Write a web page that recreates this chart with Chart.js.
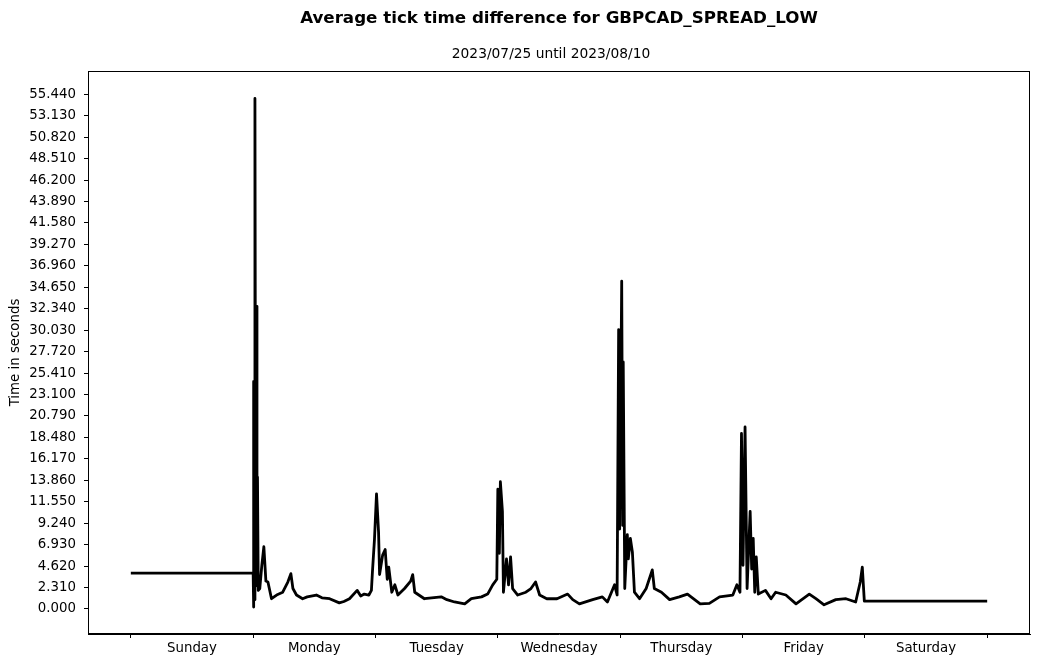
<!DOCTYPE html>
<html>
<head>
<meta charset="utf-8">
<script src="https://cdn.jsdelivr.net/npm/chart.js@4.4.0/dist/chart.umd.min.js"></script>
<style>
  body { margin: 0; background: #fff; }
  canvas { display: block; }
</style>
</head>
<body>
<canvas id="tickChart" width="1039" height="664"></canvas>
<script>
// hours since Sunday 00:00
const hours = [
  0, 24.0, 24.05, 24.15, 24.25, 24.35, 24.5, 24.6, 24.75, 24.85, 25.0, 25.3, 25.7, 26.1, 26.5, 26.9,
  27.6, 28.6, 29.8, 30.8, 31.4, 31.8, 32.5, 33.7, 34.6, 36.4, 37.5, 39.0, 40.9, 41.8, 42.9, 44.4,
  45.1, 45.8, 46.7, 47.2, 47.4, 47.8, 48.2, 48.6, 48.8, 49.4, 49.9, 50.3, 50.6, 51.2, 51.8, 52.4,
  53.7, 54.9, 55.3, 55.7, 57.6, 60.9, 62.0, 63.5, 65.5, 66.8, 68.8, 70.0, 71.0, 71.8, 72.0, 72.3,
  72.5, 72.9, 73.1, 73.7, 74.1, 74.5, 74.9, 75.9, 77.5, 78.5, 79.4, 80.2, 81.6, 83.6, 85.7, 86.7,
  88.0, 90.6, 92.5, 93.5, 94.9, 95.4, 95.7, 95.9, 96.3, 96.5, 96.6, 96.9, 97.4, 97.6, 98.0, 98.4,
  98.8, 99.8, 101.1, 102.3, 102.7, 104.1, 105.7, 107.6, 109.2, 111.7, 113.5, 115.5, 118.1, 118.9, 119.5, 119.8,
  120.1, 120.5, 120.9, 121.5, 121.8, 122.1, 122.4, 122.7, 123.1, 124.5, 125.6, 126.5, 128.5, 130.5, 133.1, 134.4,
  136.0, 138.3, 140.3, 142.2, 143.1, 143.5, 143.9, 168
];
const seconds = [
  3.85, 3.85, 0.2, 24.5, 1.0, 55.0, 3.0, 32.6, 2.5, 14.2, 2.0, 2.2, 4.7, 6.7, 3.0, 2.9,
  1.1, 1.5, 1.8, 2.9, 3.8, 2.2, 1.5, 1.1, 1.3, 1.5, 1.2, 1.1, 0.65, 0.8, 1.1, 2.0,
  1.4, 1.6, 1.5, 2.0, 4.0, 7.5, 12.4, 8.3, 3.7, 5.8, 6.4, 3.2, 4.5, 1.8, 2.6, 1.5,
  2.2, 3.0, 3.7, 1.8, 1.1, 1.3, 1.0, 0.75, 0.55, 1.1, 1.3, 1.6, 2.6, 3.2, 12.9, 6.0,
  13.7, 10.5, 1.8, 5.4, 2.6, 5.6, 2.2, 1.5, 1.8, 2.2, 2.9, 1.5, 1.1, 1.1, 1.6, 1.0,
  0.55, 1.0, 1.3, 0.75, 2.6, 1.5, 30.1, 8.6, 35.3, 9.0, 26.6, 2.2, 8.0, 5.4, 7.6, 6.1,
  1.8, 1.1, 2.2, 4.2, 2.2, 1.8, 1.0, 1.3, 1.6, 0.55, 0.6, 1.3, 1.5, 2.6, 1.8, 18.9,
  4.7, 19.6, 2.2, 10.5, 4.3, 7.6, 1.8, 5.6, 1.6, 2.0, 1.1, 1.8, 1.5, 0.55, 1.6, 1.1,
  0.45, 1.0, 1.1, 0.75, 2.9, 4.5, 0.85, 0.85
];
const yTicks = [0, 2.31, 4.62, 6.93, 9.24, 11.55, 13.86, 16.17, 18.48, 20.79, 23.1, 25.41, 27.72,
  30.03, 32.34, 34.65, 36.96, 39.27, 41.58, 43.89, 46.2, 48.51, 50.82, 53.13, 55.44];
const days = ['Sunday', 'Monday', 'Tuesday', 'Wednesday', 'Thursday', 'Friday', 'Saturday'];
const xTicks = [0, 12, 24, 36, 48, 60, 72, 84, 96, 108, 120, 132, 144, 156, 168];

const FONT = 'DejaVu Sans';

const frame = {
  id: 'frame',
  afterDraw(chart) {
    const { ctx, chartArea: a } = chart;
    ctx.save();
    ctx.strokeStyle = '#000';
    ctx.lineWidth = 1;
    ctx.strokeRect(a.left + 0.5, a.top + 0.5, a.right - a.left - 1, a.bottom - a.top - 1);
    ctx.fillStyle = '#000';
    ctx.textAlign = 'center';
    ctx.textBaseline = 'middle';
    const cx = (a.left + a.right) / 2;
    ctx.font = 'bold 16.7px "' + FONT + '"';
    ctx.fillText('Average tick time difference for GBPCAD_SPREAD_LOW', cx, 19);
    ctx.font = '13.8px "' + FONT + '"';
    ctx.fillText('2023/07/25 until 2023/08/10', cx - 8, 54);
    ctx.restore();
  }
};

const ctx = document.getElementById('tickChart').getContext('2d');
new Chart(ctx, {
  type: 'line',
  data: {
    datasets: [{
      data: hours.map((h, i) => ({ x: h, y: seconds[i] })),
      borderColor: '#000',
      borderWidth: 2.8,
      borderJoinStyle: 'round',
      pointRadius: 0,
      tension: 0,
      fill: false
    }]
  },
  options: {
    responsive: false,
    animation: false,
    layout: { padding: { top: 71, right: 9, left: 0, bottom: 0 } },
    plugins: { legend: { display: false }, tooltip: { enabled: false }, title: { display: false } },
    scales: {
      x: {
        type: 'linear',
        min: -8.4,
        max: 176.4,
        afterBuildTicks: s => { s.ticks = xTicks.map(v => ({ value: v })); },
        afterFit: s => { s.height = 30; },
        border: { display: true, color: '#000', width: 1 },
        grid: {
          drawOnChartArea: false,
          drawTicks: true,
          tickLength: 4,
          tickColor: c => (c.tick && c.tick.value % 24 === 0) ? '#000' : 'rgba(0,0,0,0)'
        },
        ticks: {
          autoSkip: false,
          maxRotation: 0,
          padding: 3,
          color: '#000',
          font: { family: FONT, size: 13.33 },
          callback: v => (v % 24 === 12) ? days[(v - 12) / 24] : ''
        }
      },
      y: {
        type: 'linear',
        min: -2.7,
        max: 57.95,
        afterBuildTicks: s => { s.ticks = yTicks.map(v => ({ value: v })); },
        afterFit: s => { s.width = 88; },
        border: { display: true, color: '#000', width: 1 },
        grid: { drawOnChartArea: false, drawTicks: true, tickLength: 4, tickColor: '#000' },
        ticks: {
          autoSkip: false,
          padding: 8,
          color: '#000',
          font: { family: FONT, size: 13.33 },
          callback: v => v.toFixed(3)
        },
        title: {
          display: true,
          text: 'Time in seconds',
          color: '#000',
          font: { family: FONT, size: 13.33 },
          padding: { top: 8, bottom: 0 }
        }
      }
    }
  },
  plugins: [frame]
});
</script>
</body>
</html>
